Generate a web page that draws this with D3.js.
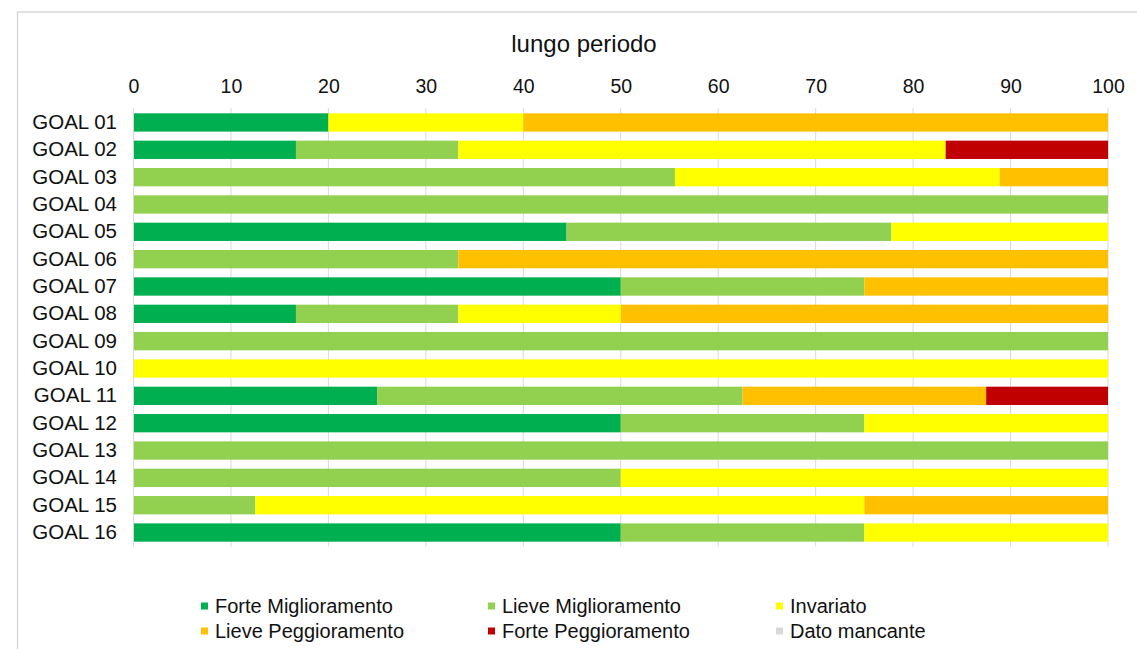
<!DOCTYPE html>
<html><head><meta charset="utf-8">
<script src="https://cdn.jsdelivr.net/npm/d3@7"></script>
<style>
html,body{margin:0;padding:0;background:#fff;}
svg{display:block;font-family:"Liberation Sans",Arial,sans-serif;}
</style></head>
<body><svg id="c" width="1137" height="649"></svg>
<script>
const categories = ["GOAL 01","GOAL 02","GOAL 03","GOAL 04","GOAL 05","GOAL 06","GOAL 07","GOAL 08","GOAL 09","GOAL 10","GOAL 11","GOAL 12","GOAL 13","GOAL 14","GOAL 15","GOAL 16"];
const seriesNames = ["Forte Miglioramento","Lieve Miglioramento","Invariato","Lieve Peggioramento","Forte Peggioramento","Dato mancante"];
const seriesColors = ["#00B050","#92D050","#FFFF00","#FFC000","#C00000","#D9D9D9"];
const forteMiglioramento = [20,16.67,0,0,44.44,0,50,16.67,0,0,25,50,0,0,0,50];
const lieveMiglioramento = [0,16.67,55.56,100,33.33,33.33,25,16.67,100,0,37.5,25,100,50,12.5,25];
const invariato =          [20,50,33.33,0,22.22,0,0,16.67,0,100,0,25,0,50,62.5,25];
const lievePeggioramento = [60,0,11.11,0,0,66.67,25,50,0,0,25,0,0,0,25,0];
const fortePeggioramento = [0,16.67,0,0,0,0,0,0,0,0,12.5,0,0,0,0,0];
const datoMancante =       [0,0,0,0,0,0,0,0,0,0,0,0,0,0,0,0];
const xTicks = [0,10,20,30,40,50,60,70,80,90,100];
const title = "lungo periodo";

const seriesValues = [forteMiglioramento,lieveMiglioramento,invariato,lievePeggioramento,fortePeggioramento,datoMancante];
const rows = categories.map((c,i)=>{const o={cat:c}; seriesNames.forEach((s,j)=>o[s]=seriesValues[j][i]); return o;});
const stacked = d3.stack().keys(seriesNames)(rows);

const svg = d3.select("#c");
svg.append("rect").attr("x",17.5).attr("y",12).attr("width",1130).attr("height",660)
  .attr("fill","none").attr("stroke","#d9d9d9").attr("stroke-width",1.5);

const x = d3.scaleLinear().domain([0,100]).range([133.5,1108]);
const y = d3.scaleBand().domain(categories).range([108.8,546.2]).paddingInner(0.33).paddingOuter(0.165);

svg.append("g").selectAll("line").data(xTicks).join("line")
  .attr("x1",d=>x(d)).attr("x2",d=>x(d)).attr("y1",108).attr("y2",546.5)
  .attr("stroke","#d9d9d9").attr("stroke-width",1);

svg.append("g").selectAll("g").data(stacked).join("g")
  .attr("fill",(d,i)=>seriesColors[i])
  .selectAll("rect").data(d=>d).join("rect")
  .attr("x",d=>x(d[0])).attr("width",d=>Math.max(0,x(d[1])-x(d[0])))
  .attr("y",d=>y(d.data.cat)).attr("height",y.bandwidth());

const xa = svg.append("g").attr("transform","translate(0,108)")
  .call(d3.axisTop(x).tickValues(xTicks).tickSize(0).tickPadding(15));
xa.select(".domain").remove();
xa.selectAll("text").attr("font-size",19.5).attr("fill","#111").attr("font-family","Liberation Sans, Arial, sans-serif");

const ya = svg.append("g").attr("transform","translate(133.5,0)")
  .call(d3.axisLeft(y).tickSize(0).tickPadding(16.5));
ya.select(".domain").attr("stroke","#d9d9d9").attr("d","M0,108V546.5");
ya.selectAll("text").attr("font-size",20.5).attr("fill","#111").attr("font-family","Liberation Sans, Arial, sans-serif");

svg.append("text").attr("x",584).attr("y",52).attr("text-anchor","middle")
  .attr("font-size",24).attr("fill","#111").text(title);

const legX = [201,488,776];
const legY = [606,631];
const lg = svg.append("g").selectAll("g").data(seriesNames).join("g")
  .attr("transform",(d,i)=>`translate(${legX[i%3]},${legY[Math.floor(i/3)]})`);
lg.append("rect").attr("x",0).attr("y",-3.5).attr("width",7).attr("height",7).attr("fill",(d,i)=>seriesColors[i]);
lg.append("text").attr("x",14).attr("y",0).attr("dy","0.35em").attr("font-size",20).attr("fill","#111").text(d=>d);
</script></body></html>
